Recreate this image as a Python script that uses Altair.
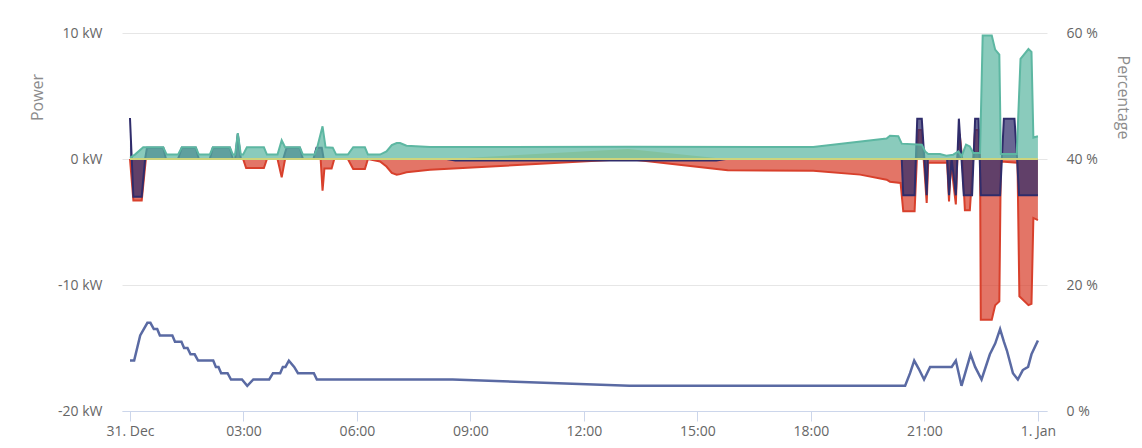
import altair as alt
import pandas as pd

# hours since 31 Dec 00:00
teal_t = [0.00, 0.13, 0.35, 0.88, 0.97, 1.27, 1.37, 1.74, 1.82, 2.11, 2.19, 2.64, 2.72, 2.78, 2.85, 2.93,
          2.99, 3.09, 3.54, 3.62, 3.90, 4.01, 4.10, 4.49, 4.57, 4.88, 4.95, 5.09, 5.17, 5.36, 5.45,
          5.76, 5.90, 6.21, 6.29, 6.61, 6.78, 6.92, 7.05, 7.14, 7.31, 7.93, 13.17, 18.06, 20.00, 20.09,
          20.31, 20.40, 20.93, 21.02, 21.10, 21.41, 21.58, 21.76, 21.90, 21.98, 22.10, 22.20, 22.29,
          22.47, 22.54, 22.78, 22.87, 22.98, 23.02, 23.44, 23.54, 23.75, 23.83, 23.88, 24.00]
teal_v = [0.10, 0.35, 0.93, 0.93, 0.35, 0.35, 0.93, 0.93, 0.35, 0.35, 0.93, 0.93, 0.35, 0.35, 2.06, 0.35,
          0.35, 0.93, 0.93, 0.35, 0.35, 1.48, 0.93, 0.93, 0.35, 0.35, 0.93, 2.59, 0.93, 0.90, 0.35,
          0.35, 0.93, 0.93, 0.35, 0.35, 0.60, 1.10, 1.27, 1.27, 1.06, 0.95, 0.98, 0.95, 1.62, 1.85,
          1.80, 1.22, 1.14, 0.60, 0.40, 0.40, 0.26, 0.34, 0.60, 0.20, 1.14, 1.00, 0.48,
          0.48, 9.80, 9.80, 8.68, 8.28, 0.40, 0.40, 7.94, 8.73, 8.50, 1.70, 1.80]

red_t = [0.00, 0.09, 0.31, 0.42, 2.99, 3.07, 3.54, 3.62, 3.90, 4.01, 4.10, 5.04, 5.09, 5.14, 5.33, 5.40,
         5.76, 5.90, 6.21, 6.29, 6.61, 6.78, 6.92, 7.05, 7.14, 7.31, 7.93, 13.17, 15.80, 18.06, 19.30,
         20.00, 20.09, 20.37, 20.44, 20.74, 20.80, 20.84, 20.93, 20.98, 21.06, 21.10, 21.60, 21.65,
         21.70, 21.83, 21.87, 21.93, 22.00, 22.07, 22.20, 22.29, 22.34, 22.43, 22.47, 22.49, 22.78,
         22.87, 22.98, 23.02, 23.46, 23.51, 23.75, 23.83, 23.88, 24.00]
red_v = [0.00, -3.30, -3.30, 0.00, 0.00, -0.72, -0.72, 0.00, 0.00, -1.46, 0.00, 0.00, -2.51, -0.75, -0.75, 0.00,
         0.00, -0.80, -0.80, 0.00, -0.20, -0.60, -1.10, -1.24, -1.20, -1.05, -0.85, 0.00, -0.90, -0.93, -1.24,
         -1.64, -1.80, -1.90, -4.15, -4.15, 0.00, 2.30, 2.30, 0.00, -3.49, -0.30, -0.30, -3.36,
         -0.20, -3.60, 0.00, 2.00, 0.00, -4.07, -4.07, 0.00, 2.30, 2.30, 0.00, -12.75, -12.75,
         -11.60, -11.30, -0.20, -0.30, -10.90, -11.60, -11.50, -4.68, -4.85]

navy_t = [0.00, 0.09, 0.31, 0.40, 0.45, 0.88, 0.95, 1.27, 1.37, 1.74, 1.82, 2.11, 2.19, 2.64, 2.72,
          2.78, 2.85, 2.93, 4.05, 4.14, 4.49, 4.57, 4.85, 4.93, 5.07, 5.12, 8.37, 8.60, 15.50, 15.75,
          20.40, 20.44, 20.74, 20.81, 20.93, 21.06, 21.09, 21.60, 21.65, 21.72, 21.83, 21.87, 21.91,
          21.98, 22.04, 22.26, 22.34, 22.43, 22.49, 23.00, 23.10, 23.38, 23.45, 23.50, 24.00]
navy_v = [3.25, -3.00, -3.00, 0.00, 0.90, 0.90, 0.00, 0.00, 0.90, 0.90, 0.00, 0.00, 0.90, 0.90, 0.00,
          0.00, 2.00, 0.00, 0.00, 0.90, 0.90, 0.00, 0.00, 0.90, 0.90, 0.00, 0.00, -0.12, -0.12, 0.00,
          0.00, -2.88, -2.88, 3.20, 3.20, -2.88, 0.00, 0.00, -2.88, 0.00, -2.88, 0.00, 3.20,
          0.00, -2.88, -2.88, 3.20, 3.20, -2.88, -2.88, 3.20, 3.20, 0.00, -2.88, -2.88]

yellow_t = [0.00, 8.37, 13.17, 15.75, 24.00]
yellow_v = [0.00, 0.00, 0.80, 0.00, 0.00]

zero_t = [0.00, 24.00]
zero_v = [0.00, 0.00]

soc_t = [0.00, 0.11, 0.27, 0.46, 0.54, 0.63, 0.72, 0.79, 1.12, 1.19, 1.36, 1.43, 1.52, 1.60, 1.71, 1.80,
         2.20, 2.27, 2.34, 2.41, 2.58, 2.67, 2.96, 3.10, 3.26, 3.68, 3.78, 3.97, 4.04, 4.11, 4.20, 4.34,
         4.44, 4.86, 4.94, 8.53, 13.20, 20.49, 20.62, 20.73, 20.85, 20.99, 21.15, 21.72, 21.83, 21.98,
         22.22, 22.34, 22.51, 22.73, 22.87, 23.00, 23.10, 23.18, 23.34, 23.47, 23.60, 23.74, 23.83, 24.00]
soc_v = [8, 8, 12, 14, 14, 13, 13, 12, 12, 11, 11, 10, 10, 9, 9, 8,
         8, 7, 7, 6, 6, 5, 5, 4, 5, 5, 6, 6, 7, 7, 8, 7,
         6, 6, 5, 5, 4, 4, 6, 8, 6.7, 5, 7, 7, 8, 4,
         9, 7, 5, 9, 10.7, 13, 11, 9.6, 6, 5, 6.5, 7, 9, 11.2]

x_ticks = [0, 3, 6, 9, 12, 15, 18, 21, 24]
x_labels = ["31. Dec", "03:00", "06:00", "09:00", "12:00", "15:00", "18:00", "21:00", "1. Jan"]
left_ticks = [-20, -10, 0, 10]
left_labels = ["-20 kW", "-10 kW", "0 kW", "10 kW"]
right_ticks = [0, 20, 40, 60]
right_labels = ["0 %", "20 %", "40 %", "60 %"]

FONT = "Open Sans"
TEAL = "#5db7a2"
RED = "#d8402c"
NAVY = "#2f2c6b"
YELLOW = "#d6d36e"
ZERO = "#cdd47c"
SOC = "#5a6aa3"


def frame(t, v):
    return pd.DataFrame({"h": t, "v": v})


def label_expr(ticks, labels):
    expr = "''"
    for t, l in reversed(list(zip(ticks, labels))):
        expr = f"datum.value == {t} ? '{l}' : ({expr})"
    return expr


x_scale = alt.Scale(domain=[-0.211, 24.24], nice=False, zero=False)
y_scale = alt.Scale(domain=[-20, 10], nice=False, zero=False)
p_scale = alt.Scale(domain=[0, 60], nice=False, zero=False)

x_axis = alt.Axis(values=x_ticks, labelExpr=label_expr(x_ticks, x_labels), title=None, grid=False,
                  domainColor="#ccd6eb", tickColor="#ccd6eb", tickSize=10, labelPadding=3,
                  labelColor="#666666", labelFontSize=14, labelFont=FONT, domainWidth=1, tickWidth=1,
                  labelFlush=False, labelOverlap=False)
y_axis = alt.Axis(values=left_ticks, labelExpr=label_expr(left_ticks, left_labels), title="Power",
                  titleX=-85, titleY=64, titleAngle=270, titleAlign="center", titleBaseline="middle",
                  titleColor="#8c8c8c", titleFontSize=16, titleFontWeight="normal", titleFont=FONT,
                  grid=True, gridColor="#e6e6e6", gridWidth=1, domain=False, ticks=False, tickSize=0,
                  labelPadding=20, labelFontSize=14, labelColor="#666666", labelFont=FONT)
p_axis = alt.Axis(values=right_ticks, labelExpr=label_expr(right_ticks, right_labels), title="Percentage",
                  orient="right", titleX=75, titleY=64, titleAngle=90, titleAlign="center",
                  titleBaseline="middle", titleColor="#8c8c8c", titleFontSize=16, titleFontWeight="normal",
                  titleFont=FONT, grid=False, domain=False, ticks=False, tickSize=0,
                  labelPadding=19, labelFontSize=14, labelColor="#666666", labelFont=FONT)

X = alt.X("h:Q", scale=x_scale, axis=x_axis)


def area(t, v, color, line=True):
    kw = {}
    if line:
        kw["line"] = alt.OverlayMarkDef(color=color, strokeWidth=2)
    return alt.Chart(frame(t, v)).mark_area(color=color, fillOpacity=0.72, **kw).encode(
        x=X,
        y=alt.Y("v:Q", scale=y_scale, axis=y_axis),
        y2=alt.datum(0),
    )


red = area(red_t, red_v, RED)
navy = area(navy_t, navy_v, NAVY)
yellow = area(yellow_t, yellow_v, YELLOW, line=False)
teal = area(teal_t, teal_v, TEAL)
zero = alt.Chart(frame(zero_t, zero_v)).mark_line(color=ZERO, strokeWidth=2).encode(
    x=X,
    y=alt.Y("v:Q", scale=y_scale, axis=y_axis),
)

left = alt.layer(red, navy, yellow, teal, zero)

soc = alt.Chart(frame(soc_t, soc_v)).mark_line(color=SOC, strokeWidth=2.5).encode(
    x=X,
    y=alt.Y("v:Q", scale=p_scale, axis=p_axis),
)

chart = alt.layer(left, soc).resolve_scale(y="independent").properties(
    width=925, height=378,
    padding={"left": 114, "top": 25, "right": 87, "bottom": 29},
    autosize=alt.AutoSizeParams(type="none"),
).configure(font=FONT, view=alt.ViewConfig(strokeWidth=0))

chart.save("out.html", embed_options={"renderer": "svg", "actions": False})
